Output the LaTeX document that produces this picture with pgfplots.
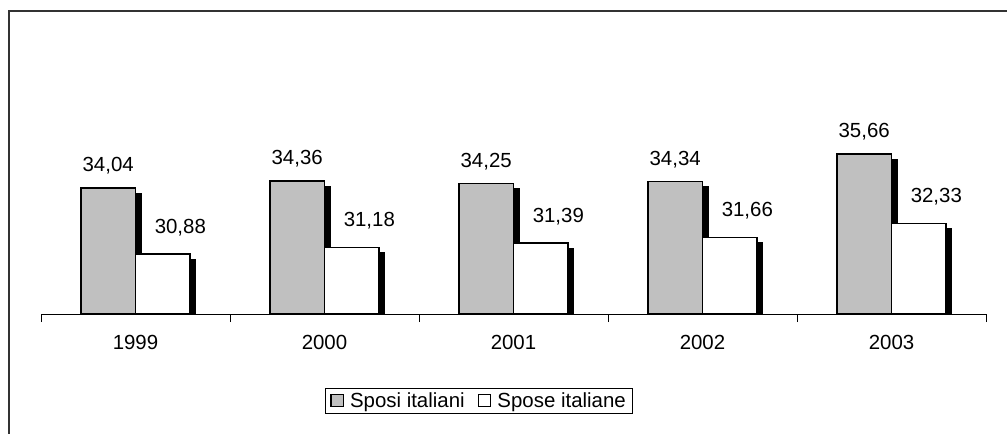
\documentclass[border=0pt]{standalone}
\usepackage{pgfplots}
\pgfplotsset{compat=1.18}
\usepackage{fontspec}
\setmainfont{Liberation Sans}
\usetikzlibrary{shadows}
\definecolor{barGray}{RGB}{192,192,192}
\newcommand{\chartfont}{\fontsize{20.5}{24}\selectfont}
\begin{document}
\begin{tikzpicture}
\useasboundingbox (0,0) rectangle (1007bp,-434bp);
\draw[line width=2bp, color=black!80] (9bp,-440bp) -- (9bp,-11bp) -- (1012bp,-11bp);
\begin{axis}[
  at={(41bp,-314bp)}, anchor=south west,
  scale only axis,
  width=945bp, height=250.7bp,
  xmin=-0.5, xmax=4.5,
  ymin=28, ymax=40,
  hide y axis,
  axis x line*=bottom,
  x axis line style={line width=0.8bp, -},
  xtick={0,1,2,3,4},
  xticklabels={1999,2000,2001,2002,2003},
  major tick length=0pt,
  xticklabel style={font=\chartfont, yshift=-18bp},
  extra x ticks={-0.5,0.5,1.5,2.5,3.5,4.5},
  extra x tick labels={},
  extra x tick style={major tick length=8bp, tick align=outside, tick style={black, line width=0.8bp}},
  ybar, bar width=0.289,
  /pgf/number format/.cd, use comma, fixed, fixed zerofill, precision=2, assume math mode=true,
  /pgfplots/.cd,
  nodes near coords,
  every node near coord/.append style={font=\chartfont, inner sep=0pt, anchor=base},
  legend style={at={(0.4635,-0.347)}, anchor=center, draw=black, line width=0.8bp,
    font=\chartfont, inner xsep=5bp, inner ysep=2bp, row sep=0pt,
    /tikz/every odd column/.append style={column sep=4bp},
    /tikz/every even column/.append style={column sep=11bp}},
  legend columns=2,
  legend cell align=left,
  legend image code/.code={\draw[#1, line width=1.3bp] (0bp,-5.5bp) rectangle (12.5bp,6.5bp);},
]
\addplot[forget plot, bar shift=-0.1445, fill=barGray, draw=black, line width=1.5bp,
  drop shadow={shadow xshift=5.5bp, shadow yshift=-5.5bp, fill=black, opacity=1},
  every node near coord/.append style={yshift=16.3bp}]
  coordinates {(0,34.04) (1,34.36) (2,34.25) (3,34.34) (4,35.66)};
\addplot[forget plot, bar shift=0.1445, fill=white, draw=black, line width=1.5bp,
  drop shadow={shadow xshift=5.5bp, shadow yshift=-5.5bp, fill=black, opacity=1},
  every node near coord/.append style={yshift=20.6bp, xshift=17.5bp}]
  coordinates {(0,30.88) (1,31.18) (2,31.39) (3,31.66) (4,32.33)};
\addlegendimage{fill=barGray, draw=black}
\addlegendentry{Sposi italiani}
\addlegendimage{fill=white, draw=black}
\addlegendentry{Spose italiane}
\end{axis}
\end{tikzpicture}
\end{document}
